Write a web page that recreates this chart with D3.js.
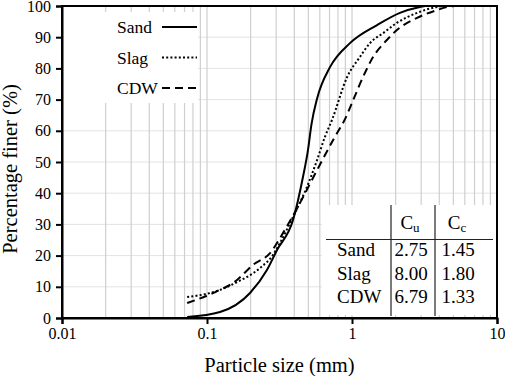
<!DOCTYPE html>
<html>
<head>
<meta charset="utf-8">
<script src="https://cdn.jsdelivr.net/npm/d3@7"></script>
<style>
  html, body { margin: 0; padding: 0; background: #fff; }
  svg text { font-family: "Liberation Serif", "Times New Roman", Times, "DejaVu Serif", serif; fill: #000; }
</style>
</head>
<body>
<div id="chart"></div>
<script>
// grading curves: particle size (mm) vs percentage finer (%)
const sandSize = [0.073, 0.123, 0.198, 0.259, 0.304, 0.392, 0.459, 0.497, 0.525, 0.574, 0.705, 0.968, 1.49, 2.14, 2.94, 3.2];
const sandFiner = [0.3, 1.9, 8.0, 15.4, 21.8, 31.4, 45.2, 53.8, 62.0, 70.3, 80.4, 88.1, 93.9, 97.8, 99.7, 100];

const slagSize = [0.073, 0.123, 0.161, 0.232, 0.285, 0.318, 0.392, 0.489, 0.574, 0.65, 0.728, 0.925, 1.135, 1.33, 1.64, 2.04, 2.81, 3.86, 4.4];
const slagFiner = [6.7, 9.0, 11.5, 16.0, 20.2, 24.0, 32.4, 42.0, 50.6, 58.0, 63.5, 77.2, 83.7, 88.1, 91.3, 94.6, 97.8, 99.7, 100];

const cdwSize = [0.073, 0.11, 0.161, 0.207, 0.272, 0.334, 0.438, 0.574, 0.75, 0.9, 1.02, 1.19, 1.40, 1.74, 2.04, 2.81, 3.86, 4.56, 5.1];
const cdwFiner = [4.8, 8.0, 12.2, 17.0, 20.8, 27.2, 36.9, 47.4, 57.5, 64.0, 69.9, 77.2, 83.7, 89.1, 92.3, 96.2, 98.7, 99.7, 100];

const seriesNames = ['Sand', 'Slag', 'CDW'];
const xTickValues = [0.01, 0.1, 1, 10];
const xTickLabels = ['0.01', '0.1', '1', '10'];
const yTickValues = [0, 10, 20, 30, 40, 50, 60, 70, 80, 90, 100];

// coefficient table
const tableRows = ['Sand', 'Slag', 'CDW'];
const cuValues = ['2.75', '8.00', '6.79'];
const ccValues = ['1.45', '1.80', '1.33'];

const W = 505, H = 376;
const margin = { top: 6, right: 8, bottom: 58, left: 62 };

const svg = d3.select('#chart').append('svg')
  .attr('width', W).attr('height', H)
  .style('display', 'block');

const x = d3.scaleLog().domain([0.01, 10]).range([margin.left, W - margin.right]);
const y = d3.scaleLinear().domain([0, 100]).range([H - margin.bottom, margin.top]);

// grid
const grid = svg.append('g');
grid.selectAll('.hgrid')
  .data(yTickValues.slice(1, -1))
  .join('line')
  .attr('x1', x.range()[0]).attr('x2', x.range()[1])
  .attr('y1', d => y(d)).attr('y2', d => y(d))
  .attr('stroke', '#e3e3e3').attr('stroke-width', 1);
grid.selectAll('.vgrid')
  .data(x.ticks().filter(d => d > 0.01 && d < 10))
  .join('line')
  .attr('x1', d => x(d)).attr('x2', d => x(d))
  .attr('y1', y.range()[0]).attr('y2', y.range()[1])
  .attr('stroke', '#cfcfcf').attr('stroke-width', 1.2);

// white panels behind legend and table
svg.append('rect').attr('x', 63).attr('y', 12).attr('width', 135).attr('height', 91).attr('fill', '#fff');
svg.append('rect').attr('x', 322).attr('y', 205).attr('width', 174).attr('height', 110).attr('fill', '#fff');

// curves
const line = d3.line()
  .x(d => x(d[0])).y(d => y(d[1]))
  .curve(d3.curveMonotoneX);

const series = [
  { name: seriesNames[0], pts: d3.zip(sandSize, sandFiner), dash: null },
  { name: seriesNames[1], pts: d3.zip(slagSize, slagFiner), dash: '2,2.2' },
  { name: seriesNames[2], pts: d3.zip(cdwSize, cdwFiner), dash: '8,5' },
];

svg.selectAll('.curve')
  .data(series)
  .join('path')
  .attr('class', 'curve')
  .attr('d', d => line(d.pts))
  .attr('fill', 'none')
  .attr('stroke', '#000')
  .attr('stroke-width', 2)
  .attr('stroke-dasharray', d => d.dash);

// frame
svg.append('rect')
  .attr('x', x.range()[0]).attr('y', y.range()[1])
  .attr('width', x.range()[1] - x.range()[0])
  .attr('height', y.range()[0] - y.range()[1])
  .attr('fill', 'none').attr('stroke', '#000').attr('stroke-width', 2);

// axes
const xAxis = svg.append('g')
  .attr('transform', `translate(0,${y(0)})`)
  .call(d3.axisBottom(x).tickValues(xTickValues).tickFormat((d, i) => xTickLabels[i]).tickSize(6).tickPadding(4));
const yAxis = svg.append('g')
  .attr('transform', `translate(${x(0.01)},0)`)
  .call(d3.axisLeft(y).tickValues(yTickValues).tickSize(6).tickPadding(5));

[xAxis, yAxis].forEach(a => {
  a.select('.domain').attr('stroke-width', 2);
  a.selectAll('.tick line').attr('stroke-width', 2);
  a.selectAll('.tick text').attr('font-size', 16);
});

// axis titles
svg.append('text')
  .attr('x', (x.range()[0] + x.range()[1]) / 2).attr('y', 372)
  .attr('text-anchor', 'middle').attr('font-size', 20.5)
  .text('Particle size (mm)');
svg.append('text')
  .attr('transform', `translate(17,${(y.range()[0] + y.range()[1]) / 2 + 7}) rotate(-90)`)
  .attr('text-anchor', 'middle').attr('font-size', 20.5)
  .text('Percentage finer (%)');

// legend
const lg = svg.append('g');
series.forEach((s, i) => {
  const yy = 27 + i * 30.5;
  const t = lg.append('text')
    .attr('x', 117).attr('y', yy + 6)
    .attr('font-size', 17.5)
    .text(s.name);
  const x0 = Math.max(162, 117 + t.node().getComputedTextLength() + 1);
  lg.append('line')
    .attr('x1', x0).attr('x2', 197)
    .attr('y1', yy).attr('y2', yy)
    .attr('stroke', '#000').attr('stroke-width', 2)
    .attr('stroke-dasharray', s.dash);
});

// table
const tb = svg.append('g').attr('font-size', 19);
tb.append('line').attr('x1', 326).attr('x2', 493).attr('y1', 239.5).attr('y2', 239.5)
  .attr('stroke', '#222').attr('stroke-width', 1.2);
[391, 435].forEach(xx => {
  tb.append('line').attr('x1', xx).attr('x2', xx).attr('y1', 205).attr('y2', 316)
    .attr('stroke', '#222').attr('stroke-width', 1.2);
});
const hdr = [['C', 'u', 410], ['C', 'c', 457]];
hdr.forEach(h => {
  const t = tb.append('text').attr('x', h[2]).attr('y', 229).attr('text-anchor', 'middle');
  t.append('tspan').text(h[0]);
  t.append('tspan').attr('font-size', 13).attr('dy', 3).text(h[1]);
});
tableRows.forEach((r, i) => {
  const yy = 256 + i * 23.5;
  tb.append('text').attr('x', 337).attr('y', yy).text(r);
  tb.append('text').attr('x', 411).attr('y', yy).attr('text-anchor', 'middle').text(cuValues[i]);
  tb.append('text').attr('x', 458).attr('y', yy).attr('text-anchor', 'middle').text(ccValues[i]);
});
</script>
</body>
</html>
